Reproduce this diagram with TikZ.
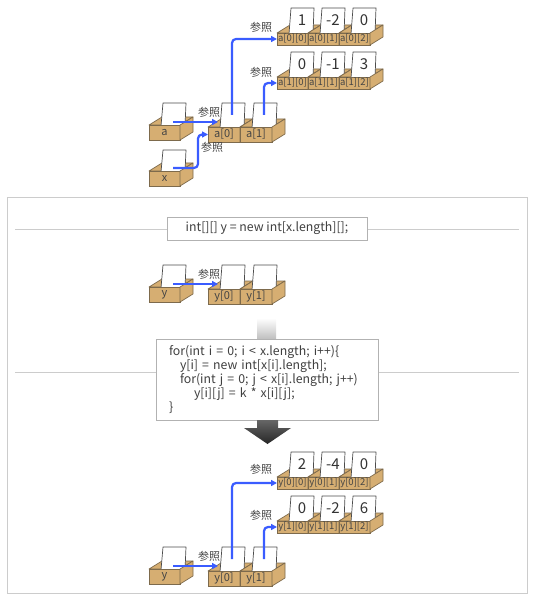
\documentclass[tikz,border=0pt]{standalone}
\usepackage{fontspec}
\setmainfont{Noto Sans CJK JP}
\usetikzlibrary{arrows.meta}
\definecolor{boxtan}{HTML}{D6AE72}
\definecolor{boxedge}{HTML}{7D6A4C}
\definecolor{refblue}{HTML}{3A5CFF}
\definecolor{framegray}{HTML}{CCCCCC}
\definecolor{textgray}{HTML}{444444}

\tikzset{
  boxin/.style={fill=boxtan, draw=boxedge, line width=0.7pt, line join=round},
  boxfront/.style={fill=boxtan, draw=boxedge, line width=0.7pt, inner sep=0pt, outer sep=0pt, anchor=north west, text=textgray, font=\fontsize{11}{11}\selectfont},
  card/.style={fill=white, draw=black!70, line width=0.7pt, line join=round},
  cardnum/.style={text=black!80, font=\fontsize{15}{15}\selectfont, inner sep=0pt},
  ref/.style={draw=refblue, line width=2.2pt, rounded corners=4pt, -{Triangle[length=6pt,width=6pt]}},
  reflabel/.style={text=textgray, font=\fontsize{11}{11}\selectfont, inner sep=0pt},
  codebox/.style={draw=black!30, fill=white, line width=0.8pt, text=black!75, font=\fontsize{12.3}{14}\selectfont},
  rule/.style={draw=framegray, line width=0.8pt}
}

% a row of open boxes: [label options]{x}{y}{width}{height}{card height}{name/label/value,...}
\newcommand{\cellrow}[7][]{%
  \foreach \nm/\lab/\val [count=\i from 0] in {#7}{
    \pgfmathsetmacro\fl{#2+\i*#4}
    \pgfmathsetmacro\fr{\fl+#4}
    \filldraw[boxin] (\fl,#3) -- (\fl+13,#3-8) -- (\fr+13,#3-8) -- (\fr,#3) -- cycle;
    \filldraw[card] (\fl+12,#3+1) -- (\fl+14,#3-#6) -- (\fl+37,#3-#6) -- (\fl+36,#3+1) -- cycle;
    \node[cardnum] (\nm-v) at (\fl+25,#3-13) {\val};
    \node[boxfront, minimum width=#4pt, minimum height=#5pt, #1] (\nm) at (\fl,#3) {\lab};
    \filldraw[boxin] (\fr,#3) -- (\fr+13,#3-8) -- (\fr+13,#3+#5-8) -- (\fr,#3+#5) -- cycle;
    \coordinate (\nm-c) at (\fl+24,#3-12);
    \coordinate (\nm-s) at (\fl+10,#3-3);
  }%
}

\begin{document}
\begin{tikzpicture}[x=1pt, y=-1pt]
\useasboundingbox (0,0) rectangle (534,601);

% before: a and x
\cellrow[font=\fontsize{9.5}{9.5}\selectfont]{277}{33}{31}{12}{25}{a00/a[0][0]/1, a01/a[0][1]/-2, a02/a[0][2]/0}
\cellrow[font=\fontsize{9.5}{9.5}\selectfont]{277}{77}{31}{12}{25}{a10/a[1][0]/0, a11/a[1][1]/-1, a12/a[1][2]/3}
\cellrow{208}{127}{32}{15}{24}{a0/a[0]/{}, a1/a[1]/{}}
\cellrow{149}{125}{31}{15}{22}{a/a/{}}
\cellrow{149}{171}{31}{15}{21}{x/x/{}}
\draw[ref] (a-c |- a-s) -- (a-s -| a0-s);
\draw[ref] (x-c |- x-s) -| ([xshift=-10pt]a0.west) -- (a0.west);
\draw[ref] (a0-c) |- (a00.west);
\draw[ref] (a1-c) |- (a10.west);
\node[reflabel] (ra) at (209,112) {参照};
\node[reflabel] (rx) at (212,147) {参照};
\node[reflabel] (ra0) at (261,27) {参照};
\node[reflabel] (ra1) at (261,72) {参照};

% frame
\draw[rule] (7,197) rectangle (527,593);
\draw[rule] (15,229) -- (519,229);
\draw[rule] (15,372) -- (519,372);
\node[codebox, minimum width=200pt, minimum height=23pt, inner sep=0pt] (decl) at (267,228.5) {int[][] y = new int[x.length][];};

% new y
\cellrow{208}{289}{32}{15}{24}{ny0/y[0]/{}, ny1/y[1]/{}}
\cellrow{149}{287}{31}{15}{22}{ny/y/{}}
\draw[ref] (ny-c |- ny-s) -- (ny-s -| ny0-s);
\node[reflabel] (rny) at (209,274) {参照};

% loop
\shade[top color=white, bottom color=black!25] (257,318) rectangle (276,339);
\node[codebox, minimum width=222pt, minimum height=81pt, text width=196pt, align=left, inner xsep=13pt] (loop) at (267,379.5)
  {for(int i = 0; i < x.length; i++)\{\\
   \hspace*{11pt}y[i] = new int[x[i].length];\\
   \hspace*{11pt}for(int j = 0; j < x[i].length; j++)\\
   \hspace*{25pt}y[i][j] = k * x[i][j];\\
   \}};
\shade[top color=black!60, bottom color=black!85] (257,420) -- (278,420) -- (278,428) -- (291,428) -- (267.5,444) -- (244,428) -- (257,428) -- cycle;

% after: y
\cellrow[font=\fontsize{9.5}{9.5}\selectfont]{277}{477}{31}{12}{25}{y00/y[0][0]/2, y01/y[0][1]/-4, y02/y[0][2]/0}
\cellrow[font=\fontsize{9.5}{9.5}\selectfont]{277}{521}{31}{12}{25}{y10/y[1][0]/0, y11/y[1][1]/-2, y12/y[1][2]/6}
\cellrow{208}{571}{32}{15}{24}{y0/y[0]/{}, y1/y[1]/{}}
\cellrow{149}{569}{31}{15}{22}{y/y/{}}
\draw[ref] (y-c |- y-s) -- (y-s -| y0-s);
\draw[ref] (y0-c) |- (y00.west);
\draw[ref] (y1-c) |- (y10.west);
\node[reflabel] (ry) at (209,556) {参照};
\node[reflabel] (ry0) at (261,469) {参照};
\node[reflabel] (ry1) at (261,515) {参照};
\end{tikzpicture}
\end{document}
